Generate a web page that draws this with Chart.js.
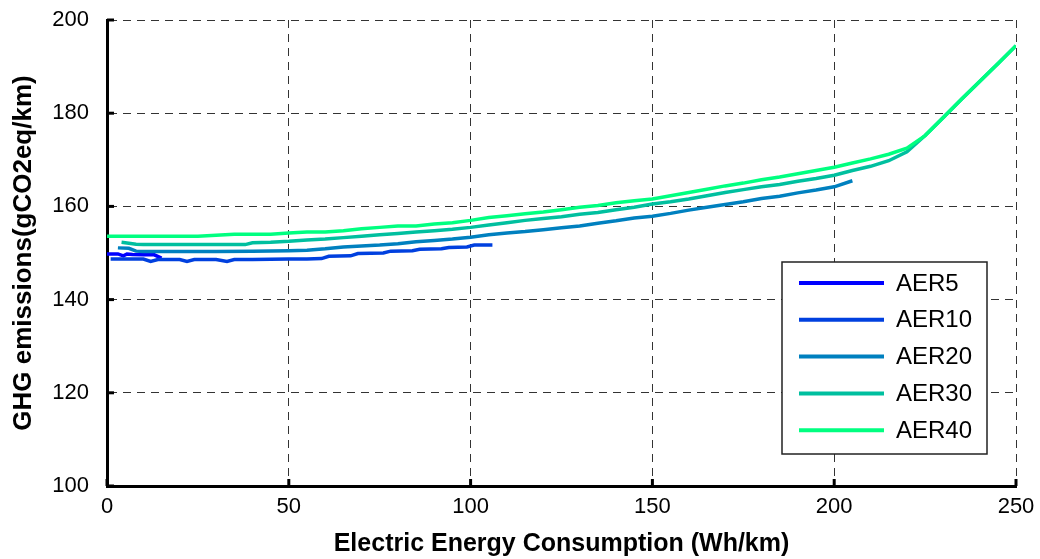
<!DOCTYPE html>
<html>
<head>
<meta charset="utf-8">
<script src="https://cdn.jsdelivr.net/npm/chart.js@4/dist/chart.umd.min.js"></script>
<style>
html,body{margin:0;padding:0;background:#fff;}
#wrap{width:1040px;height:559px;position:relative;}
</style>
</head>
<body>
<div id="wrap"><canvas id="c" width="1040" height="559"></canvas></div>
<script>
const seriesLabels = ['AER5','AER10','AER20','AER30','AER40'];
const seriesColors = ['#0000FF','#0040DF','#0080BF','#00BF9F','#00FF80'];

const aer5X = [0, 3, 4.5, 5.5, 7, 10, 13, 15];
const aer5Y = [149.8, 149.8, 149.4, 149.8, 149.7, 149.6, 149.6, 148.9];

const aer10X = [1, 10, 12, 14, 20, 22, 24, 30, 33, 35, 40, 50, 55, 59, 61, 67, 69, 76, 78, 84, 86, 92, 94, 99, 101, 106];
const aer10Y = [148.7, 148.7, 148.2, 148.6, 148.6, 148.2, 148.6, 148.6, 148.2, 148.6, 148.6, 148.7, 148.7, 148.8, 149.3, 149.4, 149.9, 150.0, 150.4, 150.5, 150.8, 150.9, 151.2, 151.3, 151.7, 151.7];

const aer20X = [3, 6, 8, 10, 15, 20, 30, 40, 50, 55, 60, 65, 70, 75, 80, 85, 90, 95, 100, 105, 110, 115, 120, 125, 130, 135, 140, 145, 150, 155, 160, 165, 170, 175, 180, 185, 190, 195, 200, 205];
const aer20Y = [151.1, 151.0, 150.4, 150.3, 150.3, 150.3, 150.3, 150.4, 150.5, 150.6, 150.9, 151.3, 151.5, 151.7, 152.0, 152.4, 152.7, 153.0, 153.4, 153.9, 154.3, 154.6, 155.0, 155.4, 155.8, 156.4, 156.9, 157.5, 157.9, 158.5, 159.2, 159.8, 160.4, 161.0, 161.7, 162.2, 162.9, 163.5, 164.2, 165.5];

const aer30X = [4, 8, 10, 15, 20, 25, 30, 38, 40, 45, 50, 55, 60, 65, 70, 75, 80, 85, 90, 95, 100, 105, 110, 115, 120, 125, 130, 135, 140, 145, 150, 155, 160, 165, 170, 175, 180, 185, 190, 195, 200, 205, 210, 215, 220, 225, 230, 235, 240, 245, 250];
const aer30Y = [152.3, 151.9, 151.8, 151.8, 151.8, 151.8, 151.8, 151.8, 152.2, 152.3, 152.5, 152.8, 153.0, 153.3, 153.6, 153.9, 154.2, 154.5, 154.8, 155.1, 155.5, 156.0, 156.5, 157.0, 157.4, 157.8, 158.3, 158.7, 159.3, 159.8, 160.5, 161.0, 161.6, 162.3, 163.0, 163.6, 164.2, 164.7, 165.4, 166.0, 166.7, 167.7, 168.6, 169.8, 171.7, 175.2, 179.1, 183.0, 186.8, 190.6, 194.5];

const aer40X = [0, 10, 20, 25, 30, 35, 40, 45, 50, 55, 60, 65, 70, 75, 80, 85, 90, 95, 100, 105, 110, 115, 120, 125, 130, 135, 140, 145, 150, 155, 160, 165, 170, 175, 180, 185, 190, 195, 200, 205, 210, 215, 220, 225, 230, 235, 240, 245, 250];
const aer40Y = [153.6, 153.6, 153.6, 153.6, 153.8, 154.0, 154.0, 154.0, 154.3, 154.5, 154.5, 154.8, 155.2, 155.5, 155.8, 155.8, 156.2, 156.5, 157.0, 157.6, 158.0, 158.4, 158.8, 159.3, 159.8, 160.2, 160.8, 161.2, 161.6, 162.3, 163.0, 163.7, 164.4, 165.0, 165.7, 166.3, 167.0, 167.7, 168.4, 169.3, 170.2, 171.2, 172.5, 175.2, 179.1, 183.0, 186.8, 190.6, 194.5];

const yTicks = [100, 120, 140, 160, 180, 200];
const xTicks = [0, 50, 100, 150, 200, 250];

const allX = [aer5X, aer10X, aer20X, aer30X, aer40X];
const allY = [aer5Y, aer10Y, aer20Y, aer30Y, aer40Y];

const datasets = seriesLabels.map((lab, i) => ({
  label: lab,
  data: allX[i].map((x, j) => ({x: x, y: allY[i][j]})),
  borderColor: seriesColors[i],
  backgroundColor: seriesColors[i],
  borderWidth: 3.5,
  pointRadius: 0,
  showLine: true,
  tension: 0,
  fill: false,
  order: seriesLabels.length - i
}));

const FONT = "'Liberation Sans', Arial, Helvetica, sans-serif";

const innerTicks = {
  id: 'innerTicks',
  afterDatasetsDraw(chart) {
    const ctx = chart.ctx, a = chart.chartArea;
    const xs = chart.scales.x, ys = chart.scales.y;
    ctx.save();
    ctx.strokeStyle = '#000';
    ctx.lineWidth = 3;
    ctx.setLineDash([]);
    yTicks.forEach(v => {
      const py = ys.getPixelForValue(v);
      ctx.beginPath(); ctx.moveTo(a.left, py); ctx.lineTo(a.left + 7, py); ctx.stroke();
    });
    xTicks.forEach(v => {
      const px = xs.getPixelForValue(v);
      ctx.beginPath(); ctx.moveTo(px, a.bottom); ctx.lineTo(px, a.bottom - 7); ctx.stroke();
    });
    ctx.restore();
  }
};

const boxLegend = {
  id: 'boxLegend',
  afterDraw(chart) {
    const ctx = chart.ctx, a = chart.chartArea;
    const right = a.right - 29, bottom = a.bottom - 32;
    const w = 205, h = 192;
    const left = right - w, top = bottom - h;
    ctx.save();
    ctx.fillStyle = '#fff';
    ctx.fillRect(left, top, w, h);
    ctx.strokeStyle = '#222';
    ctx.lineWidth = 1.5;
    ctx.strokeRect(left, top, w, h);
    chart.data.datasets.forEach((ds, i) => {
      const y = top + 21 + i * 36.8;
      ctx.strokeStyle = ds.borderColor;
      ctx.lineWidth = 4;
      ctx.beginPath(); ctx.moveTo(left + 17, y); ctx.lineTo(left + 102, y); ctx.stroke();
      ctx.fillStyle = '#000';
      ctx.font = '24px ' + FONT;
      ctx.textAlign = 'left';
      ctx.textBaseline = 'middle';
      ctx.fillText(ds.label, left + 114, y + 1);
    });
    ctx.restore();
  }
};

new Chart(document.getElementById('c'), {
  type: 'scatter',
  data: { datasets: datasets },
  plugins: [innerTicks, boxLegend],
  options: {
    responsive: false,
    animation: false,
    layout: { padding: { top: 20, right: 24, left: 0, bottom: 0 } },
    plugins: { legend: { display: false }, tooltip: { enabled: false } },
    scales: {
      x: {
        type: 'linear', min: 0, max: 250,
        afterBuildTicks(s) { s.ticks = xTicks.map(v => ({value: v})); },
        afterFit(s) { s.height = 73; s.paddingLeft = 0; s.paddingRight = 0; },
        ticks: { color: '#000', font: { family: FONT, size: 22 }, padding: 8, maxRotation: 0 },
        grid: { color: 'rgba(0,0,0,0.8)', lineWidth: 1, drawTicks: false },
        border: { display: true, color: '#000', width: 3, dash: [8, 6] },
        title: { display: true, text: 'Electric Energy Consumption (Wh/km)', color: '#000',
                 font: { family: FONT, size: 25, weight: 'bold' }, padding: { top: 3, bottom: 0 } }
      },
      y: {
        type: 'linear', min: 100, max: 200,
        afterBuildTicks(s) { s.ticks = yTicks.map(v => ({value: v})); },
        afterFit(s) { s.width = 107; s.paddingTop = 0; s.paddingBottom = 0; },
        ticks: { color: '#000', font: { family: FONT, size: 22 }, padding: 18 },
        grid: { color: 'rgba(0,0,0,0.8)', lineWidth: 1, drawTicks: false },
        border: { display: true, color: '#000', width: 3, dash: [8, 6] },
        title: { display: true, text: 'GHG emissions(gCO2eq/km)', color: '#000',
                 font: { family: FONT, size: 26, weight: 'bold' }, padding: { top: 8, bottom: 0 } }
      }
    }
  }
});
</script>
</body>
</html>
